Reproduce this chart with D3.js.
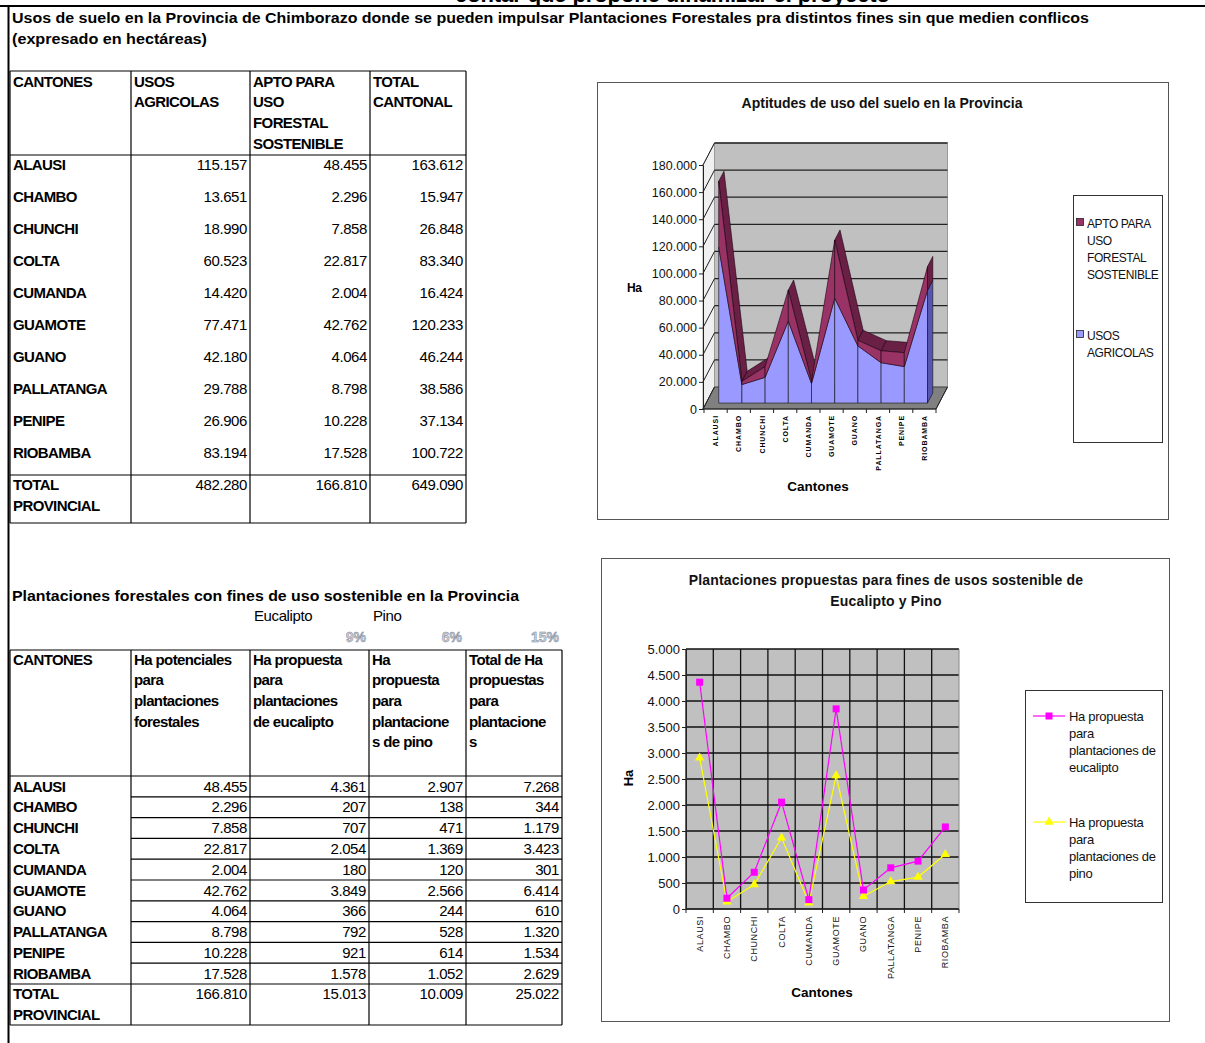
<!DOCTYPE html>
<html>
<head>
<meta charset="utf-8">
<script src="https://cdn.jsdelivr.net/npm/d3@7"></script>
<style>
  body { margin: 0; background: #fff; }
  svg { display: block; font-family: "Liberation Sans", Arial, sans-serif; }
</style>
</head>
<body>
<svg id="page" width="1205" height="1043"></svg>
<script>
// ---- data read from the sheet ----
const cantones = ["ALAUSI", "CHAMBO", "CHUNCHI", "COLTA", "CUMANDA", "GUAMOTE", "GUANO", "PALLATANGA", "PENIPE", "RIOBAMBA"];
const usosAgricolas = [115157, 13651, 18990, 60523, 14420, 77471, 42180, 29788, 26906, 83194];
const aptoForestal = [48455, 2296, 7858, 22817, 2004, 42762, 4064, 8798, 10228, 17528];
const totalCantonal = [163612, 15947, 26848, 83340, 16424, 120233, 46244, 38586, 37134, 100722];
const totalProvincial1 = [482280, 166810, 649090];

const haPotenciales = aptoForestal;
const haEucalipto = [4361, 207, 707, 2054, 180, 3849, 366, 792, 921, 1578];
const haPino = [2907, 138, 471, 1369, 120, 2566, 244, 528, 614, 1052];
const haTotalPropuesta = [7268, 344, 1179, 3423, 301, 6414, 610, 1320, 1534, 2629];
const totalProvincial2 = [166810, 15013, 10009, 25022];
const porcentajes = ["9%", "6%", "15%"];

const ticksChart1 = [0, 20000, 40000, 60000, 80000, 100000, 120000, 140000, 160000, 180000];
const ticksChart2 = [0, 500, 1000, 1500, 2000, 2500, 3000, 3500, 4000, 4500, 5000];

const fmt = d3.formatLocale({decimal: ",", thousands: ".", grouping: [3], currency: ["", ""]}).format(",d");

const svg = d3.select("#page");

// helpers
const line = (g, x1, y1, x2, y2, stroke = "#000", w = 1.2) =>
  g.append("line").attr("x1", x1).attr("y1", y1).attr("x2", x2).attr("y2", y2)
    .attr("stroke", stroke).attr("stroke-width", w);

const txt = (g, x, y, s, size, weight = "normal", anchor = "start") =>
  g.append("text").attr("x", x).attr("y", y).attr("font-size", size)
    .attr("font-weight", weight).attr("text-anchor", anchor).text(s);

const poly = d3.line().curve(d3.curveLinearClosed);

// ---- page frame ----
const page = svg.append("g");
txt(page, 890, 2, "contar que propone dinamizar el proyecto", 22, "bold", "end").attr("textLength", 435);
line(page, 0, 6, 1205, 6, "#000", 2);
line(page, 8.5, 6, 8.5, 1043, "#000", 2);

txt(page, 12, 23, "Usos de suelo en la Provincia de Chimborazo donde se pueden impulsar Plantaciones Forestales pra distintos fines sin que medien conflicos", 14.5, "bold")
  .attr("textLength", 1077).attr("lengthAdjust", "spacingAndGlyphs");
txt(page, 12, 44, "(expresado en hectáreas)", 14.5, "bold")
  .attr("textLength", 195).attr("lengthAdjust", "spacingAndGlyphs");

// ---- table 1 ----
const t1 = svg.append("g");
const cols1 = [10, 131, 250, 370, 466];
[71, 155, 475, 523].forEach(y => line(t1, cols1[0], y, cols1[4], y));
cols1.forEach(x => line(t1, x, 71, x, 523));
const head1 = [["CANTONES"], ["USOS", "AGRICOLAS"], ["APTO PARA", "USO", "FORESTAL", "SOSTENIBLE"], ["TOTAL", "CANTONAL"]];
head1.forEach((lines, c) => lines.forEach((s, k) =>
  txt(t1, cols1[c] + 3, 86.5 + 20.7 * k, s, 15, "bold").attr("letter-spacing", -0.6)));
const body1 = [usosAgricolas, aptoForestal, totalCantonal];
cantones.forEach((name, i) => {
  const y = 169.5 + 32 * i;
  txt(t1, 13, y, name, 15, "bold").attr("letter-spacing", -0.6);
  body1.forEach((arr, c) => txt(t1, cols1[c + 2] - 3, y, fmt(arr[i]), 15, "normal", "end").attr("letter-spacing", -0.4));
});
txt(t1, 13, 489.5, "TOTAL", 15, "bold").attr("letter-spacing", -0.6);
txt(t1, 13, 510.5, "PROVINCIAL", 15, "bold").attr("letter-spacing", -0.6);
totalProvincial1.forEach((v, c) => txt(t1, cols1[c + 2] - 3, 489.5, fmt(v), 15, "normal", "end").attr("letter-spacing", -0.4));

// ---- table 2 ----
const t2 = svg.append("g");
const cols2 = [10, 131, 250, 369, 466, 562];
txt(t2, 12, 601, "Plantaciones forestales con fines de uso sostenible en la Provincia", 15, "bold")
  .attr("textLength", 507).attr("lengthAdjust", "spacingAndGlyphs");
txt(t2, 254, 621, "Eucalipto", 15).attr("letter-spacing", -0.4);
txt(t2, 373, 621, "Pino", 15).attr("letter-spacing", -0.4);
[366, 462, 559].forEach((x, k) => txt(t2, x, 642, porcentajes[k], 14, "bold", "end")
  .attr("fill", "#d0d4da").attr("stroke", "#7a8596").attr("stroke-width", 0.5));

const rowH2 = 20.8, rowTop2 = 776;
[650, rowTop2, rowTop2 + rowH2 * 10, 1025].forEach(y => line(t2, cols2[0], y, cols2[5], y));
d3.range(1, 10).forEach(i => line(t2, cols2[1], rowTop2 + rowH2 * i, cols2[5], rowTop2 + rowH2 * i));
cols2.forEach(x => line(t2, x, 650, x, 1025));
const head2 = [["CANTONES"], ["Ha potenciales", "para", "plantaciones", "forestales"],
  ["Ha propuesta", "para", "plantaciones", "de eucalipto"],
  ["Ha", "propuesta", "para", "plantacione", "s de pino"],
  ["Total de Ha", "propuestas", "para", "plantacione", "s"]];
head2.forEach((lines, c) => lines.forEach((s, k) =>
  txt(t2, cols2[c] + 3, 664.5 + 20.7 * k, s, 15, "bold").attr("letter-spacing", -0.6)));
const body2 = [haPotenciales, haEucalipto, haPino, haTotalPropuesta];
cantones.forEach((name, i) => {
  const y = rowTop2 + rowH2 * i + 15.5;
  txt(t2, 13, y, name, 15, "bold").attr("letter-spacing", -0.6);
  body2.forEach((arr, c) => txt(t2, cols2[c + 2] - 3, y, fmt(arr[i]), 15, "normal", "end").attr("letter-spacing", -0.4));
});
txt(t2, 13, 998.5, "TOTAL", 15, "bold").attr("letter-spacing", -0.6);
txt(t2, 13, 1019.5, "PROVINCIAL", 15, "bold").attr("letter-spacing", -0.6);
totalProvincial2.forEach((v, c) => txt(t2, cols2[c + 2] - 3, 998.5, fmt(v), 15, "normal", "end").attr("letter-spacing", -0.4));

// ---- chart 1: 3D stacked area ----
const c1 = svg.append("g");
c1.append("rect").attr("x", 597.5).attr("y", 82.5).attr("width", 571).attr("height", 437)
  .attr("fill", "#fff").attr("stroke", "#555");
txt(c1, 882, 108, "Aptitudes de uso del suelo en la Provincia", 14, "bold", "middle").attr("fill", "#111");

const DX = 11.5, DY = -22;           // full depth offset
const dFront = 0.27, dBack = 0.73;   // ribbon position in depth
const x1 = d3.scaleBand().domain(cantones).range([704, 936]);
const y1 = d3.scaleLinear().domain([0, 180000]).range([409, 165]);
const xL = 703, xR = 936;
const P = (i, v, d) => [x1(cantones[i]) + x1.bandwidth() / 2 + DX * d, y1(v) + DY * d];

// side wall
c1.append("path").attr("d", poly([[xL, y1(0)], [xL, y1(180000)], [xL + DX, y1(180000) + DY], [xL + DX, y1(0) + DY]]))
  .attr("fill", "#f0f0f0").attr("stroke", "#888").attr("stroke-width", 0.8);
// back wall
c1.append("rect").attr("x", xL + DX).attr("y", y1(180000) + DY).attr("width", xR - xL)
  .attr("height", y1(0) - y1(180000)).attr("fill", "#c0c0c0").attr("stroke", "#999");
// floor
c1.append("path").attr("d", poly([[xL, y1(0)], [xR, y1(0)], [xR + DX, y1(0) + DY], [xL + DX, y1(0) + DY]]))
  .attr("fill", "#808080").attr("stroke", "#333").attr("stroke-width", 0.8);
// gridlines
ticksChart1.slice(1).forEach(v => {
  line(c1, xL + DX, y1(v) + DY, xR + DX, y1(v) + DY, "#222", 1.3);
  line(c1, xL, y1(v), xL + DX, y1(v) + DY, "#222", 1);
});
line(c1, xL, y1(0), xL + DX, y1(0) + DY, "#222", 1);
line(c1, xR, y1(0), xR + DX, y1(0) + DY, "#222", 1);

const blue = "#9999ff", blueSide = "#5656b0", plum = "#993366", plumTop = "#6a1f45";
const ox = DX * (dBack - dFront), oy = DY * (dBack - dFront);
// top surfaces of the stack (only those facing the viewer)
d3.range(9).forEach(i => {
  const a = P(i, totalCantonal[i], dFront), b = P(i + 1, totalCantonal[i + 1], dFront);
  const cross = (b[0] - a[0]) * oy - (b[1] - a[1]) * ox;
  if (cross < 0) {
    c1.append("path").attr("d", poly([a, b, P(i + 1, totalCantonal[i + 1], dBack), P(i, totalCantonal[i], dBack)]))
      .attr("fill", plumTop).attr("stroke", "#1a0010").attr("stroke-width", 0.6);
  }
});
// front faces
d3.range(9).forEach(i => {
  c1.append("path").attr("d", poly([P(i, 0, dFront), P(i, usosAgricolas[i], dFront),
      P(i + 1, usosAgricolas[i + 1], dFront), P(i + 1, 0, dFront)]))
    .attr("fill", blue).attr("stroke", "#111").attr("stroke-width", 0.6);
  c1.append("path").attr("d", poly([P(i, usosAgricolas[i], dFront), P(i, totalCantonal[i], dFront),
      P(i + 1, totalCantonal[i + 1], dFront), P(i + 1, usosAgricolas[i + 1], dFront)]))
    .attr("fill", plum).attr("stroke", "#1a0010").attr("stroke-width", 0.6);
});
// right end cap
c1.append("path").attr("d", poly([P(9, 0, dFront), P(9, usosAgricolas[9], dFront), P(9, usosAgricolas[9], dBack), P(9, 0, dBack)]))
  .attr("fill", blueSide).attr("stroke", "#111").attr("stroke-width", 0.6);
c1.append("path").attr("d", poly([P(9, usosAgricolas[9], dFront), P(9, totalCantonal[9], dFront), P(9, totalCantonal[9], dBack), P(9, usosAgricolas[9], dBack)]))
  .attr("fill", plumTop).attr("stroke", "#1a0010").attr("stroke-width", 0.6);

// axes
const ax1 = c1.append("g").attr("transform", `translate(${xL},0)`)
  .call(d3.axisLeft(y1).tickValues(ticksChart1).tickFormat(fmt).tickSize(4).tickPadding(2));
ax1.select(".domain").attr("stroke", "#222");
ax1.selectAll("line").attr("stroke", "#222");
ax1.selectAll("text").attr("font-size", 12.5).attr("fill", "#111").attr("font-family", "Liberation Sans, Arial, sans-serif");
line(c1, xL, y1(0), xR, y1(0), "#222", 1);
cantones.concat([null]).forEach(c => {
  const x = c ? x1(c) : xR;
  line(c1, x, y1(0), x, y1(0) + 4, "#222", 1);
});
cantones.forEach(c => {
  c1.append("text").attr("transform", `translate(${x1(c) + x1.bandwidth() / 2 + 2.5},415) rotate(-90)`)
    .attr("text-anchor", "end").attr("font-size", 7).attr("font-weight", "bold")
    .attr("letter-spacing", 0.9).text(c);
});
txt(c1, 818, 491, "Cantones", 13.5, "bold", "middle");
txt(c1, 627, 292, "Ha", 12, "bold").attr("letter-spacing", -0.5);

// legend 1
const lg1 = c1.append("g");
lg1.append("rect").attr("x", 1073.5).attr("y", 195.5).attr("width", 89).attr("height", 247)
  .attr("fill", "#fff").attr("stroke", "#333");
const leg1 = [{c: plum, lines: ["APTO PARA", "USO", "FORESTAL", "SOSTENIBLE"], y: 223},
              {c: blue, lines: ["USOS", "AGRICOLAS"], y: 335}];
leg1.forEach(d => {
  lg1.append("rect").attr("x", 1076.5).attr("y", d.y - 4.5).attr("width", 7).attr("height", 7)
    .attr("fill", d.c).attr("stroke", "#222").attr("stroke-width", 0.8);
  d.lines.forEach((s, k) => txt(lg1, 1087, d.y + 4.5 + 17.2 * k, s, 12).attr("letter-spacing", -0.4).attr("fill", "#111"));
});

// ---- chart 2: line chart ----
const c2 = svg.append("g");
c2.append("rect").attr("x", 601.5).attr("y", 558.5).attr("width", 568).attr("height", 463)
  .attr("fill", "#fff").attr("stroke", "#555");
txt(c2, 886, 585, "Plantaciones propuestas para fines de usos sostenible de", 14, "bold", "middle")
  .attr("fill", "#111").attr("letter-spacing", 0.15);
txt(c2, 886, 606, "Eucalipto y Pino", 14, "bold", "middle").attr("fill", "#111").attr("letter-spacing", 0.15);

const x2 = d3.scaleBand().domain(cantones).range([686, 959]);
const y2 = d3.scaleLinear().domain([0, 5000]).range([909, 649]);
c2.append("rect").attr("x", 686).attr("y", 649).attr("width", 273).attr("height", 260).attr("fill", "#c0c0c0");
ticksChart2.forEach(v => line(c2, 686, y2(v), 959, y2(v), "#111", 1.3));
cantones.forEach(c => line(c2, x2(c), 649, x2(c), 909, "#111", 1.3));
line(c2, 959, 649, 959, 909, "#888", 1);

const ax2 = c2.append("g").attr("transform", "translate(686,0)")
  .call(d3.axisLeft(y2).tickValues(ticksChart2).tickFormat(fmt).tickSize(4).tickPadding(2));
ax2.select(".domain").attr("stroke", "#222");
ax2.selectAll("line").attr("stroke", "#222");
ax2.selectAll("text").attr("font-size", 13).attr("fill", "#111").attr("font-family", "Liberation Sans, Arial, sans-serif");
line(c2, 686, 909, 959, 909, "#222", 1);
cantones.concat([null]).forEach(c => {
  const x = c ? x2(c) : 959;
  line(c2, x, 909, x, 913, "#222", 1);
});
cantones.forEach(c => {
  c2.append("text").attr("transform", `translate(${x2(c) + x2.bandwidth() / 2 + 3},916) rotate(-90)`)
    .attr("text-anchor", "end").attr("font-size", 9).attr("letter-spacing", 0.6).attr("fill", "#111").text(c);
});
txt(c2, 822, 997, "Cantones", 13.5, "bold", "middle");
c2.append("text").attr("transform", "translate(633,778) rotate(-90)").attr("text-anchor", "middle")
  .attr("font-size", 13).attr("font-weight", "bold").text("Ha");

const cx2 = c => x2(c) + x2.bandwidth() / 2;
const series2 = [
  {vals: haEucalipto, color: "#ff00ff", shape: "square"},
  {vals: haPino, color: "#ffff00", shape: "triangle"}
];
series2.slice().reverse().forEach(s => {
  c2.append("path").attr("d", d3.line().x((d, i) => cx2(cantones[i])).y(d => y2(d))(s.vals))
    .attr("fill", "none").attr("stroke", s.color).attr("stroke-width", 1.2);
});
const marker = (g, x, y, s) => {
  if (s.shape === "square") {
    g.append("rect").attr("x", x - 3.5).attr("y", y - 3.5).attr("width", 7).attr("height", 7).attr("fill", s.color);
  } else {
    g.append("path").attr("transform", `translate(${x},${y})`)
      .attr("d", d3.symbol(d3.symbolTriangle, 38)()).attr("fill", s.color);
  }
};
series2.slice().reverse().forEach(s => s.vals.forEach((v, i) => marker(c2, cx2(cantones[i]), y2(v), s)));

// legend 2
const lg2 = c2.append("g");
lg2.append("rect").attr("x", 1025.5).attr("y", 690.5).attr("width", 137).attr("height", 212)
  .attr("fill", "#fff").attr("stroke", "#333");
const leg2 = [{s: series2[0], lines: ["Ha propuesta", "para", "plantaciones de", "eucalipto"], y: 716},
              {s: series2[1], lines: ["Ha propuesta", "para", "plantaciones de", "pino"], y: 822}];
leg2.forEach(d => {
  line(lg2, 1033, d.y, 1065, d.y, d.s.color, 1.2);
  marker(lg2, 1049, d.y, d.s);
  d.lines.forEach((s, k) => txt(lg2, 1069, d.y + 4.5 + 17.3 * k, s, 13).attr("letter-spacing", -0.3).attr("fill", "#111"));
});
</script>
</body>
</html>
